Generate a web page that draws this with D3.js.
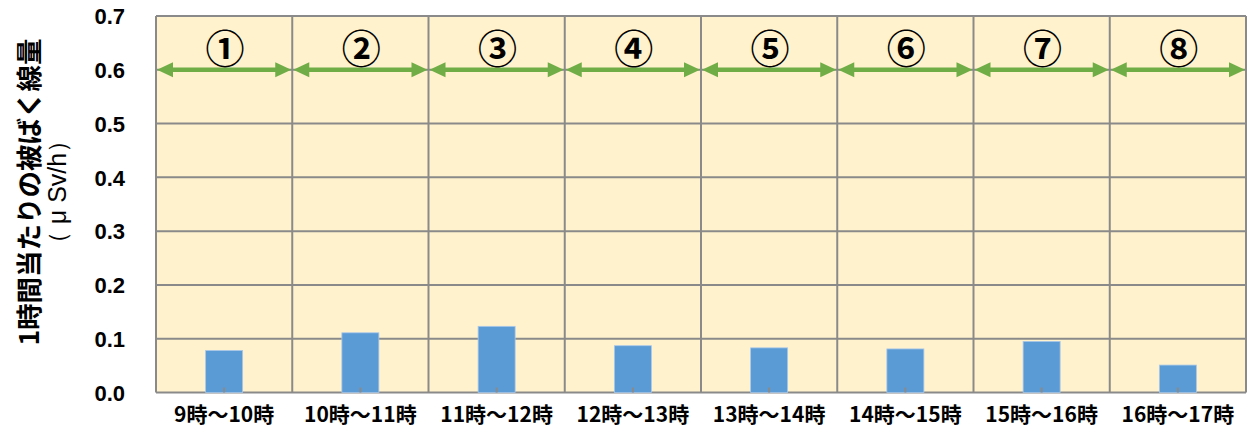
<!DOCTYPE html>
<html><head><meta charset="utf-8">
<script src="https://cdn.jsdelivr.net/npm/d3@7"></script>
<style>body{margin:0;background:#fff}svg{display:block}</style>
</head><body>
<svg id="c" width="1249" height="439"></svg>
<script>
const categories = ["9時～10時","10時～11時","11時～12時","12時～13時","13時～14時","14時～15時","15時～16時","16時～17時"];
const values = [0.078,0.111,0.123,0.087,0.083,0.081,0.095,0.051];
const markers = ["①","②","③","④","⑤","⑥","⑦","⑧"];
const yTicks = [0,0.1,0.2,0.3,0.4,0.5,0.6,0.7];
const arrowLevel = 0.6;
const yTitle1 = "1時間当たりの被ばく線量";
const yTitle2 = "（ μ Sv/h）";

const svg = d3.select("#c");
const L=156, R=1246, T=16, B=392.5;
const x = d3.scaleBand().domain(categories).range([L,R]).paddingInner(0).paddingOuter(0);
const y = d3.scaleLinear().domain([0,0.7]).range([B,T]);
const grid = "#8a8a8a", green = "#70AD47";
const jp = "'Noto Sans CJK JP','Noto Sans',sans-serif";

svg.append("rect").attr("x",L).attr("y",T).attr("width",R-L).attr("height",B-T).attr("fill","#FFF2CC");

svg.append("g").selectAll("line").data(yTicks).join("line")
  .attr("x1",L).attr("x2",R).attr("y1",d=>y(d)).attr("y2",d=>y(d))
  .attr("stroke",grid).attr("stroke-width",2);
const bounds = categories.map(c=>x(c)).concat([R]);
svg.append("g").selectAll("line").data(bounds).join("line")
  .attr("x1",d=>d).attr("x2",d=>d).attr("y1",T).attr("y2",B)
  .attr("stroke",grid).attr("stroke-width",2);

const bw = 37;
svg.append("g").selectAll("rect").data(values).join("rect")
  .attr("x",(d,i)=>x(categories[i])+x.bandwidth()/2-bw/2)
  .attr("y",d=>y(d)).attr("width",bw).attr("height",d=>B-y(d))
  .attr("fill","#5B9BD5").attr("stroke","#a9c8ea").attr("stroke-width",0.8);

svg.append("g").selectAll("line").data(categories).join("line")
  .attr("x1",d=>x(d)+x.bandwidth()/2).attr("x2",d=>x(d)+x.bandwidth()/2)
  .attr("y1",B-5).attr("y2",B).attr("stroke",grid).attr("stroke-width",2);

const yAxis = d3.axisLeft(y).tickValues(yTicks).tickFormat(d3.format(".1f")).tickSize(0).tickPadding(0);
const gy = svg.append("g").attr("transform",`translate(125,0)`).call(yAxis);
gy.select(".domain").remove();
gy.selectAll("text").attr("font-family","'Liberation Sans',Arial,sans-serif").attr("font-weight","bold")
  .attr("font-size",22).attr("fill","#000").attr("dy","0.35em");

const xAxis = d3.axisBottom(x).tickSize(0).tickPadding(0);
const gx = svg.append("g").attr("transform",`translate(0,${B+14})`).call(xAxis);
gx.select(".domain").remove();
gx.selectAll("text").attr("font-family",jp).attr("font-weight","bold").attr("font-size",21).attr("fill","#000").attr("dy","0.72em");

const ah=16, aw=7.5;
const ag = svg.append("g");
categories.forEach(c=>{
  const x0=x(c)+1, x1=x(c)+x.bandwidth()-1, yy=y(arrowLevel);
  ag.append("line").attr("x1",x0+ah-2).attr("x2",x1-ah+2).attr("y1",yy).attr("y2",yy).attr("stroke",green).attr("stroke-width",4.5);
  ag.append("path").attr("d",`M${x0},${yy}L${x0+ah},${yy-aw}L${x0+ah},${yy+aw}Z`).attr("fill",green);
  ag.append("path").attr("d",`M${x1},${yy}L${x1-ah},${yy-aw}L${x1-ah},${yy+aw}Z`).attr("fill",green);
});

svg.append("g").selectAll("text").data(markers).join("text")
  .attr("x",(d,i)=>x(categories[i])+x.bandwidth()/2+1).attr("y",46)
  .attr("text-anchor","middle").attr("dominant-baseline","central")
  .attr("font-family",jp).attr("font-weight","bold").attr("font-size",39).attr("fill","#000").text(d=>d);

svg.append("text").attr("transform","translate(27,192) rotate(-90)")
  .attr("text-anchor","middle").attr("dominant-baseline","central")
  .attr("font-family",jp).attr("font-weight","bold").attr("font-size",26.5).attr("fill","#000").text(yTitle1);
svg.append("text").attr("transform","translate(57,192) rotate(-90)")
  .attr("text-anchor","middle").attr("dominant-baseline","central")
  .attr("font-family","'Liberation Sans',Arial,sans-serif").attr("font-size",25).attr("fill","#000").text(yTitle2);
</script>
</body></html>
